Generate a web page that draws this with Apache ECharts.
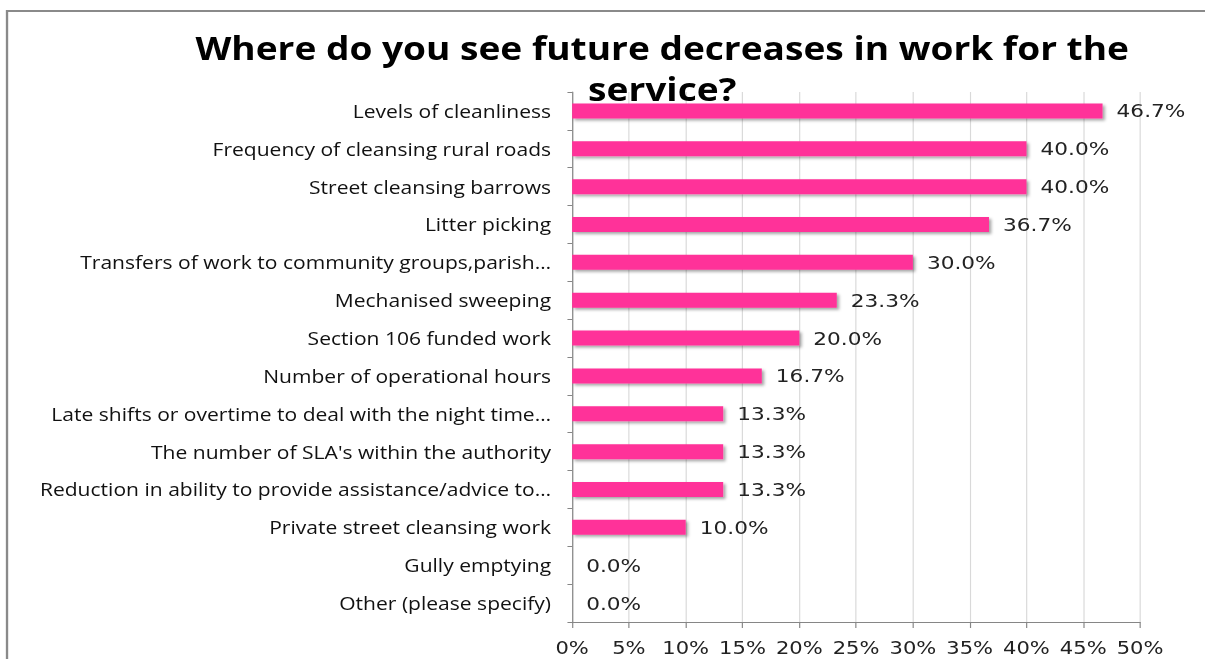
<!DOCTYPE html>
<html>
<head>
<meta charset="utf-8">
<script src="https://cdn.jsdelivr.net/npm/echarts@6/dist/echarts.min.js"></script>
<style>
  html, body { margin: 0; padding: 0; background: #fff; overflow: hidden; }
  /* the chart is laid out narrower and widened horizontally, like the wide-set lettering of the original slide */
  #chart { width: 1030px; height: 659px; transform: scaleX(1.17); transform-origin: 0 0; }
</style>
</head>
<body>
<div id="chart"></div>
<script>
// Survey answers, listed top to bottom
const categories = [
  'Levels of cleanliness',
  'Frequency of cleansing rural roads',
  'Street cleansing barrows',
  'Litter picking',
  'Transfers of work to community groups,parish…',
  'Mechanised sweeping',
  'Section 106 funded work',
  'Number of operational hours',
  'Late shifts or overtime to deal with the night time…',
  "The number of SLA's within the authority",
  'Reduction in ability to provide assistance/advice to…',
  'Private street cleansing work',
  'Gully emptying',
  'Other (please specify)'
];
// Share of respondents (%)
const shares = [46.7, 40.0, 40.0, 36.7, 30.0, 23.3, 20.0, 16.7, 13.3, 13.3, 13.3, 10.0, 0.0, 0.0];
const axisTicks = [0, 5, 10, 15, 20, 25, 30, 35, 40, 45, 50];

const chart = echarts.init(document.getElementById('chart'), null, { renderer: 'svg' });

chart.setOption({
  backgroundColor: '#ffffff',
  animation: false,
  graphic: [{
    // frame of the chart area (left and top edges are in view)
    type: 'polyline',
    shape: { points: [[6, 670], [6, 11], [1030, 11]] },
    style: { fill: 'none', stroke: '#8a8a8a', lineWidth: 2, lineJoin: 'miter' },
    silent: true, z: 0
  }],
  title: {
    text: 'Where do you see future decreases in work for the\nservice?',
    left: 561,
    top: 22,
    textAlign: 'center',
    textStyle: {
      fontFamily: '"Open Sans", sans-serif',
      fontWeight: 'bold',
      fontSize: 31.7,
      lineHeight: 41,
      color: '#000'
    },
    z: 10
  },
  grid: { left: 489, right: 55.6, top: 92, bottom: 37, containLabel: false },
  xAxis: {
    type: 'value',
    min: axisTicks[0],
    max: axisTicks[axisTicks.length - 1],
    interval: 5,
    axisLine: { show: true, lineStyle: { color: '#868686', width: 1 } },
    axisTick: { show: true, length: 6, lineStyle: { color: '#868686' } },
    splitLine: { show: true, lineStyle: { color: '#d9d9d9', width: 1 } },
    axisLabel: {
      formatter: v => v + '%',
      fontFamily: '"DejaVu Sans", sans-serif',
      fontSize: 18,
      color: '#222',
      margin: 17
    }
  },
  yAxis: {
    type: 'category',
    data: categories,
    inverse: true,
    axisLine: { show: true, lineStyle: { color: '#868686', width: 1 } },
    axisTick: { show: true, length: 4, lineStyle: { color: '#868686' } },
    axisLabel: {
      fontFamily: '"Open Sans", sans-serif',
      fontSize: 18,
      color: '#111',
      margin: 18
    }
  },
  series: [{
    type: 'bar',
    data: shares,
    barWidth: 15,
    itemStyle: {
      color: '#ff3399',
      shadowColor: 'rgba(0,0,0,0.35)',
      shadowBlur: 3,
      shadowOffsetX: 2,
      shadowOffsetY: 2
    },
    label: {
      show: true,
      position: 'right',
      distance: 12,
      formatter: p => p.value.toFixed(1) + '%',
      fontFamily: '"DejaVu Sans", sans-serif',
      fontSize: 18.5,
      color: '#222'
    }
  }]
});
</script>
</body>
</html>
